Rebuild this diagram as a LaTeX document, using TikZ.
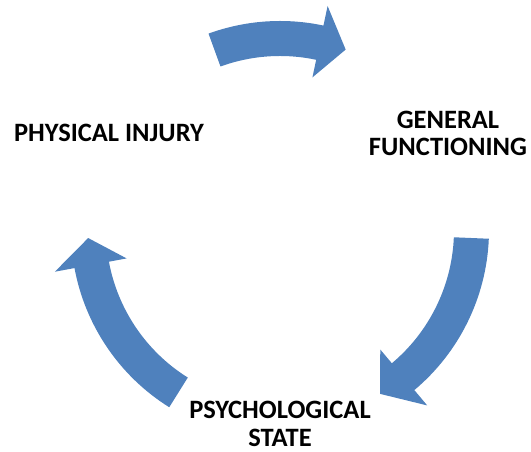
\documentclass[tikz,border=0pt]{standalone}
\usepackage{fontspec}
\setmainfont{Carlito}
\definecolor{cycblue}{RGB}{79,129,189}
\tikzset{
  cyclearrow/.style={fill=cycblue, draw=none},
  lbl/.style={font=\bfseries\fontsize{26.5}{27.5}\selectfont, align=center, inner sep=0pt, text=black}
}
\newcommand{\cycarrow}[3]{%
  \fill[cyclearrow] (#1:209) arc[start angle=#1, end angle=#2, radius=209]
    -- (#2:229) -- (#3:192) -- (#2:156) -- (#2:174)
    arc[start angle=#2, end angle=#1, radius=174] -- cycle;}
\begin{document}
\begin{tikzpicture}[x=1pt,y=1pt]
\useasboundingbox (0,0) rectangle (531,452);
\begin{scope}[shift={(280,222)}]
  \coordinate (c) at (0,0);
  \cycarrow{110}{78}{70}
  \cycarrow{-2.4}{-50}{-58.6}
  \cycarrow{-122}{-169.5}{-177.6}
\end{scope}
\node[lbl] (phys) at (109,319.5) {PHYSICAL INJURY};
\node[lbl] (gen) at (448,318.5) {GENERAL\\FUNCTIONING};
\node[lbl] (psy) at (280,28) {PSYCHOLOGICAL\\STATE};
\end{tikzpicture}
\end{document}
